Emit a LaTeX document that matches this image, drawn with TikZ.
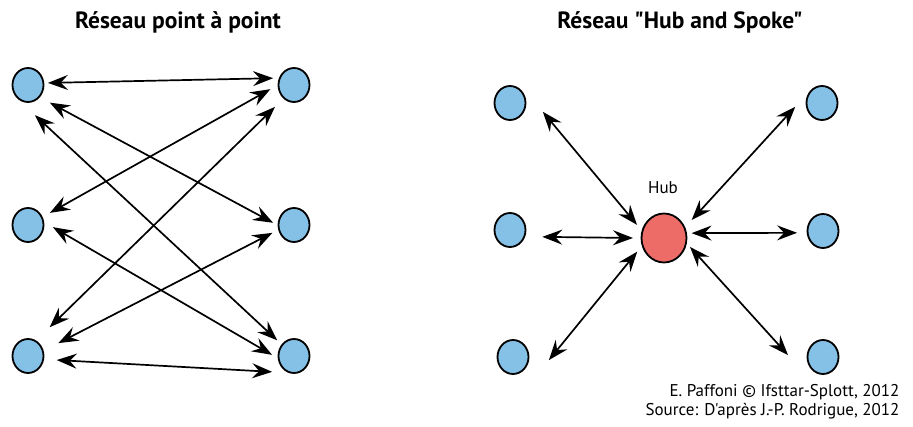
\documentclass[tikz,border=0pt]{standalone}
\usepackage{fontspec}
\setmainfont{PT Sans}[Ligatures=TeXOff]
\usetikzlibrary{arrows.meta,shapes.geometric}
\definecolor{stopblue}{HTML}{85C1E6}
\definecolor{hubred}{HTML}{ED6C68}

\begin{document}
\begin{tikzpicture}[
  x=1pt,
  y=-1pt,
  every node/.style={font=\fontsize{17}{20}\selectfont, black},
  stop/.style={ellipse, draw=black, line width=1.8pt, fill=stopblue,
               minimum width=31pt, minimum height=34pt, inner sep=0pt},
  hubnode/.style={stop, fill=hubred, minimum width=45pt, minimum height=49pt},
  link/.style={black, line width=1.7pt,
               {Stealth[length=20pt, width=15pt, inset=7pt]}-{Stealth[length=20pt, width=15pt, inset=7pt]}},
  title/.style={font=\fontsize{23.5}{28}\selectfont\bfseries, anchor=base}
]
  \useasboundingbox (0,0) rectangle (913,427);

  %% ---- titres ------------------------------------------------------------
  \node[title] (lefttitle) at (178,29) {Réseau point à point};
  \node[title] (righttitle) at (680,29) {Réseau "Hub and Spoke"};

  %% ---- réseau point à point ----------------------------------------------
  \node[stop] (pa) at (28,85) {};
  \node[stop] (pb) at (28,225) {};
  \node[stop] (pc) at (28,356) {};
  \node[stop] (qa) at (294,85) {};
  \node[stop] (qb) at (294,225) {};
  \node[stop] (qc) at (294,356) {};

  %% départ/angle/distance -- arrivée/angle/distance
  \foreach \a/\ta/\da/\b/\tb/\db in {pa/6/20/qa/162/22,  pa/-39/28/qb/174/21,
                                     pa/-77/31/qc/137/23, pb/29/25/qa/190/24,
                                     pb/-5/25/qc/177/22,  pc/53/36/qa/229/29,
                                     pc/23/33/qb/200/23,  pc/-8/29/qc/216/27}
    \draw[link] ([shift={(\ta:\da pt)}]\a.center) -- ([shift={(\tb:\db pt)}]\b.center);

  %% ---- réseau hub and spoke ----------------------------------------------
  \node[hubnode] (hub) at (664,238) {};
  \node[anchor=base] (hublabel) at (663,194) {Hub};

  \node[stop] (sa) at (510,103) {};
  \node[stop] (sb) at (510,230) {};
  \node[stop] (sc) at (513,357) {};
  \node[stop] (sd) at (822,103) {};
  \node[stop] (se) at (823,231) {};
  \node[stop] (sf) at (823,357) {};

  \foreach \ta/\da/\b/\tb/\db in {154/30/sa/-15/34, 180/31/sb/-12/33,
                                  207/30/sc/-5/36,  33/33/sd/188/27,
                                  10/28/se/184/26,  -19/27.5/sf/177/35}
    \draw[link] ([shift={(\ta:\da pt)}]hub.center) -- ([shift={(\tb:\db pt)}]\b.center);

  %% ---- crédits, en bas à droite ------------------------------------------
  \node[anchor=base east] (credit) at (903,397) {E. Paffoni © Ifsttar-Splott, 2012};
  \node[anchor=base east] (source) at (903,416) {Source: D'après J.-P. Rodrigue, 2012};
\end{tikzpicture}
\end{document}
